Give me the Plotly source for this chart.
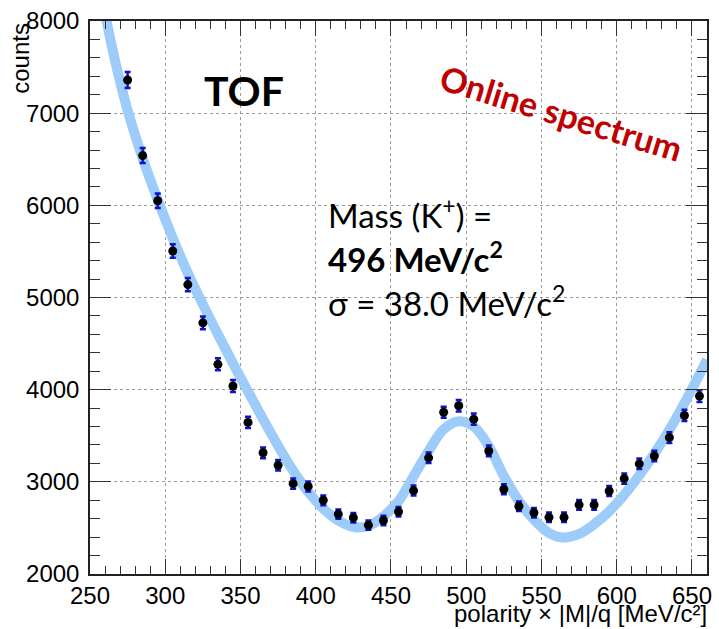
import plotly.graph_objects as go

# Histogram bin centres and contents (10 MeV/c^2 bins)
bin_centres = [275, 285, 295, 305, 315, 325, 335, 345, 355, 365,
               375, 385, 395, 405, 415, 425, 435, 445, 455, 465,
               475, 485, 495, 505, 515, 525, 535, 545, 555, 565,
               575, 585, 595, 605, 615, 625, 635, 645, 655]
counts = [7360, 6540, 6050, 5505, 5140, 4725, 4275, 4040, 3645, 3315,
          3180, 2980, 2950, 2800, 2650, 2610, 2530, 2580, 2675, 2905,
          3260, 3755, 3825, 3680, 3335, 2920, 2735, 2665, 2615, 2615,
          2750, 2750, 2900, 3035, 3195, 3280, 3480, 3720, 3930]
count_errors = [86, 81, 78, 74, 72, 69, 65, 64, 60, 58,
                56, 55, 54, 53, 51, 51, 50, 51, 52, 54,
                57, 61, 62, 61, 58, 54, 52, 52, 51, 51,
                52, 52, 54, 55, 57, 57, 59, 61, 63]

# Fit curve (gaussian peak on a smooth background)
fit_x = [258, 261, 268, 275, 285, 295, 305, 315, 325, 335,
         345, 355, 365, 375, 385, 395, 405, 415, 425, 435,
         445, 455, 465, 475, 485, 495, 505, 515, 525, 535,
         545, 555, 564, 575, 585, 595, 605, 615, 625, 635,
         645, 655, 660]
fit_y = [8260, 8000, 7475, 7030, 6510, 6060, 5645, 5265, 4925, 4600,
         4285, 3980, 3680, 3390, 3120, 2890, 2710, 2580, 2510, 2520,
         2625, 2790, 3060, 3335, 3570, 3658, 3600, 3385, 3063, 2790,
         2590, 2445, 2395, 2435, 2540, 2680, 2860, 3070, 3305, 3565,
         3855, 4165, 4325]

x_ticks = [250, 300, 350, 400, 450, 500, 550, 600, 650]
y_ticks = [2000, 3000, 4000, 5000, 6000, 7000, 8000]

AXIS_FONT = dict(family="Liberation Sans, Arial, sans-serif", size=24, color="black")
TEXT_FONT = "Lato, Noto Sans, sans-serif"

fig = go.Figure()

fig.add_trace(go.Scatter(
    x=fit_x, y=fit_y, mode="lines",
    line=dict(color="#9dcbfa", width=10, shape="spline", smoothing=1.0),
    hoverinfo="skip", showlegend=False,
))

fig.add_trace(go.Scatter(
    x=bin_centres, y=counts, mode="markers",
    marker=dict(color="black", size=9),
    error_y=dict(type="data", array=count_errors, color="#0a14c8",
                 thickness=2.5, width=3),
    showlegend=False,
))

axis_common = dict(
    showline=True, linecolor="#222", linewidth=1.5, mirror="ticks",
    ticks="inside", tickcolor="#333", tickwidth=1.3,
    showgrid=True, gridcolor="#9a9a9a", griddash="dot", gridwidth=1,
    zeroline=False, tickfont=AXIS_FONT,
)

fig.update_xaxes(
    range=[250, 660], tickvals=x_ticks, ticklen=15,
    ticklabelstandoff=-1,
    minor=dict(dtick=10, tick0=250, ticklen=8, ticks="inside",
               tickcolor="#333", showgrid=False),
    **axis_common,
)
fig.update_yaxes(
    range=[2000, 8000], tickvals=y_ticks, ticklen=21,
    ticklabelstandoff=4,
    minor=dict(dtick=200, tick0=2000, ticklen=10, ticks="inside",
               tickcolor="#333", showgrid=False),
    **axis_common,
)

annotations = [
    dict(text="counts", xref="paper", yref="paper", x=-0.113, y=1.0,
         xanchor="center", yanchor="top", textangle=-90, showarrow=False,
         font=AXIS_FONT),
    dict(text="polarity \u00d7 |M|/q [MeV/c\u00b2]", xref="paper", yref="paper",
         x=1.0, y=-0.072, xanchor="right", yanchor="middle", xshift=2,
         showarrow=False, font=AXIS_FONT),
    dict(text="<b>TOF</b>", x=352, y=7242, xanchor="center", yanchor="middle",
         showarrow=False, font=dict(family=TEXT_FONT, size=41, color="black")),
    dict(text="<b>Online spectrum</b>", x=563, y=7005, xanchor="center",
         yanchor="middle", textangle=17, showarrow=False,
         font=dict(family=TEXT_FONT, size=34, color="#c00000")),
    dict(text="Mass (K<sup>+</sup>) =", x=407, y=5915, xanchor="left",
         yanchor="middle", showarrow=False,
         font=dict(family=TEXT_FONT, size=33, color="black")),
    dict(text="<b>496 MeV/c<sup>2</sup></b>", x=407, y=5444, xanchor="left",
         yanchor="middle", showarrow=False,
         font=dict(family=TEXT_FONT, size=33, color="black")),
    dict(text="\u03c3 = 38.0 MeV/c<sup>2</sup>", x=407, y=4967, xanchor="left",
         yanchor="middle", showarrow=False,
         font=dict(family=TEXT_FONT, size=33, color="black")),
]

fig.update_layout(
    width=719, height=629,
    margin=dict(l=90, r=7, t=20, b=55),
    paper_bgcolor="white", plot_bgcolor="white",
    annotations=annotations,
    showlegend=False,
)

fig.write_html("out.html")
